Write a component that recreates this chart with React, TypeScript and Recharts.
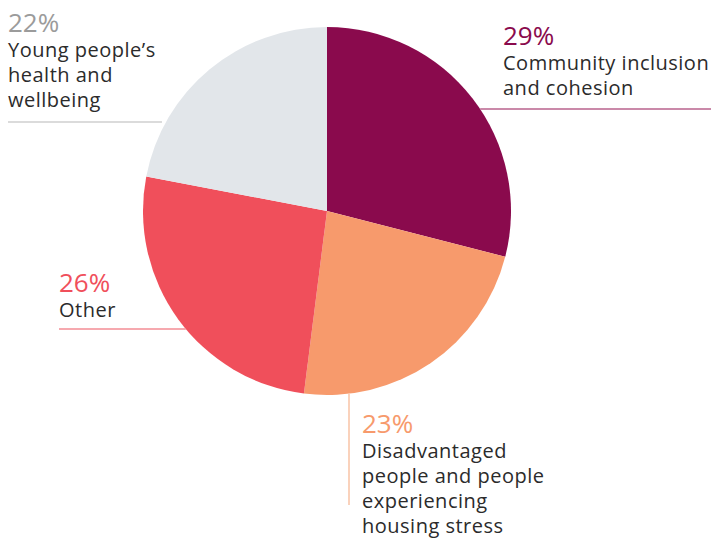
import { PieChart, Pie, Cell } from 'recharts'

const categories = [
  ['Community inclusion', 'and cohesion'],
  ['Disadvantaged', 'people and people', 'experiencing', 'housing stress'],
  ['Other'],
  ['Young people\u2019s', 'health and', 'wellbeing'],
]
const shares = [29, 23, 26, 22]
const sliceColors = ['#8a0a4d', '#f79a6c', '#f04f5b', '#e2e6ea']
const pctColors = ['#8a0a4d', '#f79a6c', '#f04f5b', '#9b9b9b']
const leaderColors = ['#b9628c', '#f9c3a6', '#f38d94', '#cfcfcf']

// label placement: text anchor + leader line (h = horizontal at y, v = vertical at x)
const LAYOUT = [
  { x: 503, y: 45, dir: 'h', at: 109, end: 711, gap: 0 },
  { x: 362, y: 433, dir: 'v', at: 349, end: 505, gap: 0 },
  { x: 59, y: 292, dir: 'h', at: 329, end: 59, gap: 0 },
  { x: 8, y: 32, dir: 'h', at: 122, end: 8, gap: 4 },
]

const data = shares.map((v, i) => ({ name: categories[i].join(' '), value: v }))

const FONT = '"Open Sans", sans-serif'

function renderLabel(props: any) {
  const { cx, cy, outerRadius, index } = props
  const l = LAYOUT[index]
  let x1 = 0, y1 = 0, x2 = 0, y2 = 0
  if (l.dir === 'h') {
    const dy = l.at - cy
    const dx = Math.sqrt(outerRadius * outerRadius - dy * dy)
    const side = l.end > cx ? 1 : -1
    x1 = cx + side * (dx + l.gap)
    y1 = l.at
    x2 = l.end
    y2 = l.at
  } else {
    const dx = l.at - cx
    const dy = Math.sqrt(outerRadius * outerRadius - dx * dx)
    x1 = l.at
    y1 = cy + dy
    x2 = l.at
    y2 = l.end
  }
  return (
    <g key={`lbl-${index}`}>
      <line x1={x1} y1={y1} x2={x2} y2={y2} stroke={leaderColors[index]} strokeWidth={1.5} />
      <text x={l.x} y={l.y} fontFamily={FONT}>
        <tspan x={l.x} y={l.y} fill={pctColors[index]} fontSize={26}>
          {shares[index]}%
        </tspan>
        {categories[index].map((line, j) => (
          <tspan
            key={j}
            x={l.x}
            y={l.y + 25 * (j + 1)}
            fill="#2b2b2b"
            fontSize={20}
            letterSpacing={0.5}
          >
            {line}
          </tspan>
        ))}
      </text>
    </g>
  )
}

export default function App() {
  return (
    <div style={{ position: 'absolute', left: 0, top: 0, width: 711, height: 540, background: '#fff' }}>
      <PieChart width={711} height={540} margin={{ top: 0, right: 0, bottom: 0, left: 0 }}>
        <Pie
          data={data}
          dataKey="value"
          cx={327}
          cy={211}
          outerRadius={184}
          startAngle={90}
          endAngle={-270}
          stroke="none"
          label={renderLabel}
          labelLine={false}
          isAnimationActive={false}
        >
          {data.map((_, i) => (
            <Cell key={i} fill={sliceColors[i]} />
          ))}
        </Pie>
      </PieChart>
    </div>
  )
}
